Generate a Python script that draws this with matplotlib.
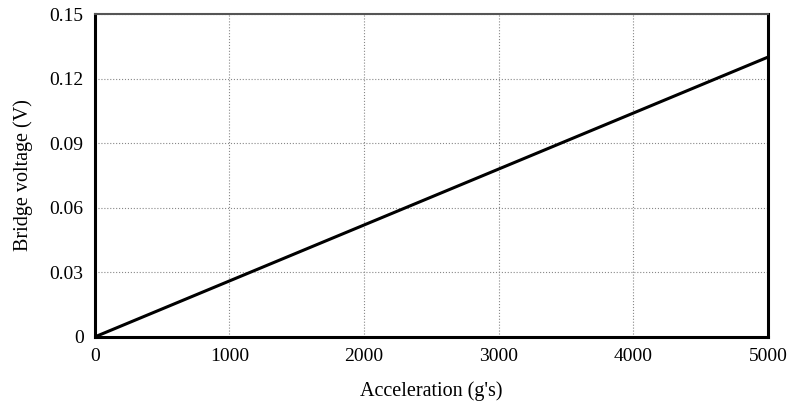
import numpy as np
import matplotlib.pyplot as plt

plt.rcParams['font.family'] = ['Liberation Serif', 'DejaVu Serif']

accel = [0, 1000, 2000, 3000, 4000, 5000]
voltage = [0.0, 0.026, 0.052, 0.078, 0.104, 0.130]

x_ticks = [0, 1000, 2000, 3000, 4000, 5000]
y_ticks = [0, 0.03, 0.06, 0.09, 0.12, 0.15]
y_labels = ['0', '0.03', '0.06', '0.09', '0.12', '0.15']

fig = plt.figure(figsize=(7.9, 4.03), dpi=100)
ax = fig.add_axes([0.120, 0.164, 0.852, 0.801])

ax.plot(accel, voltage, color='black', linewidth=2.2)

ax.set_xlim(0, 5000)
ax.set_ylim(0, 0.15)
ax.set_xticks(x_ticks)
ax.set_yticks(y_ticks)
ax.set_yticklabels(y_labels)
ax.tick_params(length=0, labelsize=14, pad=8)

ax.grid(True, color='#888888', linestyle=':', linewidth=0.8)

for side in ['left', 'bottom', 'right']:
    ax.spines[side].set_linewidth(2.2)
ax.spines['top'].set_linewidth(1.5)
ax.spines['top'].set_color('#555555')

ax.set_xlabel("Acceleration (g's)", fontsize=14.5, labelpad=12)
ax.set_ylabel("Bridge voltage (V)", fontsize=14.5, labelpad=12)

fig.savefig('out.png', dpi=100)
